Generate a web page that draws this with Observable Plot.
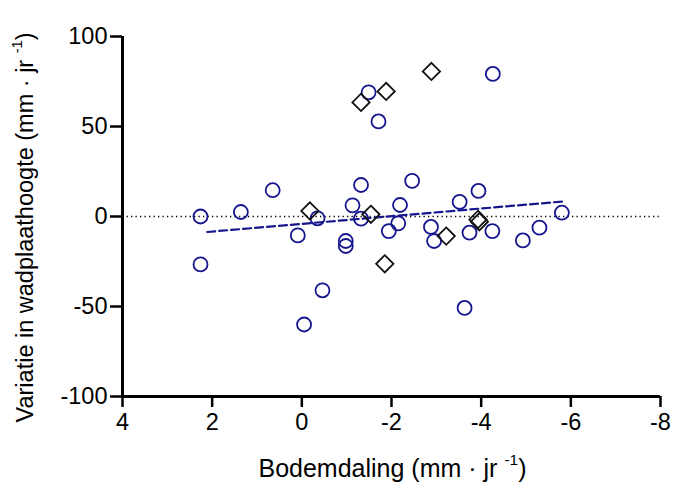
<!DOCTYPE html>
<html>
<head>
<meta charset="utf-8">
<script src="https://cdn.jsdelivr.net/npm/d3@7"></script>
<script src="https://cdn.jsdelivr.net/npm/@observablehq/plot@0.6"></script>
<style>
  html, body { margin: 0; padding: 0; background: #fff; }
</style>
</head>
<body>
<div id="chart"></div>
<script>
// Data
const circleX = [2.26, 2.26, 1.36, 0.65, 0.09, -0.05, -0.35, -0.46, -0.98, -0.98,
                 -1.13, -1.32, -1.32, -1.49, -1.71, -1.94, -2.15, -2.19, -2.46, -2.88,
                 -2.95, -3.52, -3.63, -3.74, -3.94, -4.25, -4.26, -4.93, -5.30, -5.80];
const circleY = [0, -26.6, 2.5, 14.6, -10.5, -60, -1, -41, -13.6, -16.4,
                 6.2, 17.5, -1.2, 69, 52.8, -8.1, -3.8, 6.4, 19.8, -5.8,
                 -13.6, 8.1, -50.8, -9, 14.2, -8.1, 79.2, -13.3, -6.2, 2.1];
const diamondX = [-0.18, -1.32, -1.54, -1.85, -1.88, -2.89, -3.22, -3.93, -3.96];
const diamondY = [3.1, 63.4, 1.2, -26.3, 69.5, 80.6, -10.9, -1.6, -2.9];
const fitX = [2.11, -5.81];
const fitY = [-8.6, 8.3];
const xTicks = [4, 2, 0, -2, -4, -6, -8];
const yTicks = [-100, -50, 0, 50, 100];
const xDomain = [4, -8];
const yDomain = [-100, 100];
const xTitle = "Bodemdaling (mm · jr ";
const yTitle = "Variatie in wadplaathoogte (mm · jr ";
const supText = "-1";

const circles = circleX.map((x, i) => ({x, y: circleY[i]}));
const diamonds = diamondX.map((x, i) => ({x, y: diamondY[i]}));
const fit = fitX.map((x, i) => ({x, y: fitY[i]}));

const blue = "#16168f";
const fs = 23.5;

const chart = Plot.plot({
  width: 673,
  height: 482,
  marginLeft: 122,
  marginRight: 13,
  marginTop: 36,
  marginBottom: 86,
  style: {fontFamily: "'Liberation Sans', Arial, Helvetica, sans-serif", fontSize: fs + "px", background: "#fff", color: "#000", overflow: "visible"},
  x: {domain: xDomain},
  y: {domain: yDomain},
  marks: [
    Plot.ruleY([0], {stroke: "#000", strokeWidth: 1.3, strokeDasharray: "1.3,3.2"}),
    Plot.line(fit, {x: "x", y: "y", stroke: blue, strokeWidth: 2.2, strokeDasharray: "8,4"}),
    Plot.dot(circles, {x: "x", y: "y", r: 7, stroke: blue, strokeWidth: 1.8, fill: "none"}),
    Plot.dot(diamonds, {x: "x", y: "y", symbol: "diamond2", r: 7.8, stroke: "#111", strokeWidth: 1.8, fill: "none"}),
    Plot.axisX({ticks: xTicks, tickFormat: d => String(d), tickSize: 11, tickPadding: 6, strokeWidth: 2.5, fontSize: fs, label: null}),
    Plot.axisY({ticks: yTicks, tickFormat: d => String(d), tickSize: 12, tickPadding: 3, strokeWidth: 2.5, fontSize: fs, label: null}),
    Plot.ruleX([4], {stroke: "#000", strokeWidth: 3}),
    Plot.ruleY([-100], {stroke: "#000", strokeWidth: 3}),
    Plot.text([xTitle], {frameAnchor: "bottom", textAnchor: "middle", lineAnchor: "middle", dx: 1, dy: 72, text: d => d, fill: "#000", fontSize: 25}),
    Plot.text([yTitle], {frameAnchor: "left", textAnchor: "middle", lineAnchor: "middle", rotate: -90, dx: -97.5, dy: 11, text: d => d, fill: "#000", fontSize: fs})
  ]
});

// add superscript "-1" and closing parenthesis to the axis titles
chart.querySelectorAll("text").forEach(t => {
  const s = t.textContent;
  if (s === xTitle || s === yTitle) {
    t.textContent = "";
    const ns = "http://www.w3.org/2000/svg";
    const a = document.createElementNS(ns, "tspan");
    a.textContent = s;
    const b = document.createElementNS(ns, "tspan");
    b.textContent = supText;
    b.setAttribute("font-size", "0.62em");
    b.setAttribute("dy", "-0.75em");
    const c = document.createElementNS(ns, "tspan");
    c.textContent = ")";
    c.setAttribute("dy", "0.47em");
    t.appendChild(a); t.appendChild(b); t.appendChild(c);
  }
});

document.getElementById("chart").appendChild(chart);
</script>
</body>
</html>
